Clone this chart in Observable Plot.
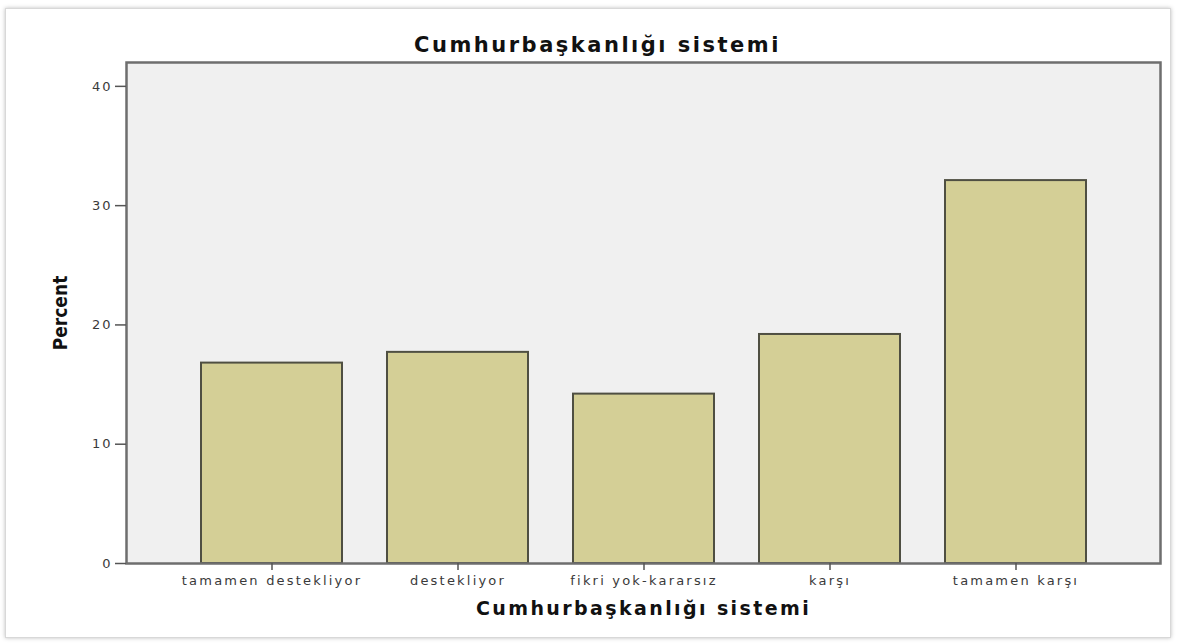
<!DOCTYPE html>
<html>
<head>
<meta charset="utf-8">
<script src="https://cdn.jsdelivr.net/npm/d3@7"></script>
<script src="https://cdn.jsdelivr.net/npm/@observablehq/plot@0.6"></script>
<style>
  html, body { margin: 0; padding: 0; background: #fff; }
  #wrap { position: relative; width: 1177px; height: 643px; overflow: hidden; }
  #card { position: absolute; left: 5px; top: 8px; width: 1164px; height: 628px;
          border: 1px solid #d8d8d8; box-shadow: 0 0 4px rgba(0,0,0,0.25); background: #fff; }
  #chart { position: absolute; left: 0; top: 0; }
  #chart svg { font-family: "Liberation Sans", Arial, sans-serif; }
  #chart svg [aria-label="x-axis tick label"] text { font-family: "DejaVu Sans", sans-serif; font-size: 13px; fill: #3a3a3a; letter-spacing: 2.2px; }
  #chart svg [aria-label="y-axis tick label"] text { font-family: "DejaVu Sans", sans-serif; font-size: 13px; fill: #3a3a3a; letter-spacing: 2px; }
  #chart svg [aria-label="chart-title"], #chart svg [aria-label="chart-title"] text { letter-spacing: 2.5px; }
  #chart svg [aria-label="x-title"], #chart svg [aria-label="x-title"] text { letter-spacing: 2.4px; }
</style>
</head>
<body>
<div id="wrap"><div id="card"></div><div id="chart"></div></div>
<script>
const categories = ["tamamen destekliyor", "destekliyor", "fikri yok-kararsız", "karşı", "tamamen karşı"];
const percents = [16.8, 17.7, 14.2, 19.2, 32.1];
const yTicks = [0, 10, 20, 30, 40];
const titleText = "Cumhurbaşkanlığı sistemi";
const xLabel = "Cumhurbaşkanlığı sistemi";
const yLabel = "Percent";

const data = categories.map((c, i) => ({cat: c, pct: percents[i]}));

const chart = Plot.plot({
  width: 1177,
  height: 643,
  marginLeft: 126,
  marginRight: 17,
  marginTop: 62,
  marginBottom: 80,
  x: {domain: categories, paddingInner: 0.244, paddingOuter: 0.394, label: null},
  y: {domain: [0, 42], label: null},
  marks: [
    Plot.frame({fill: "#f0f0f0", stroke: null}),
    Plot.barY(data, {x: "cat", y: "pct", fill: "#d4cf96", stroke: "#4f4f42", strokeWidth: 2}),
    Plot.frame({stroke: "#6e6e6e", strokeWidth: 2.5}),
    Plot.axisY({ticks: yTicks, tickSize: 11, tickPadding: 3, label: null, stroke: "#555", strokeWidth: 1.5}),
    Plot.axisX({tickSize: 7, tickPadding: 5, label: null, stroke: "#555", strokeWidth: 1.5}),
    Plot.text([titleText], {frameAnchor: "top", lineAnchor: "middle", dy: -17, dx: -46, fontSize: 21, fontWeight: "bold", fill: "#111",
      fontFamily: "'DejaVu Sans', sans-serif", ariaLabel: () => "chart-title"}),
    Plot.text([xLabel], {frameAnchor: "bottom", lineAnchor: "middle", dy: 45, fontSize: 19, fontWeight: "bold", fill: "#111",
      fontFamily: "'DejaVu Sans', sans-serif", ariaLabel: () => "x-title"}),
    Plot.text([yLabel], {frameAnchor: "left", textAnchor: "middle", lineAnchor: "middle", dx: -66, rotate: -90, fontSize: 19, fontWeight: "bold", fill: "#111",
      fontFamily: "'Liberation Sans Narrow', 'DejaVu Sans Condensed', sans-serif"})
  ]
});
const texts = d3.select(chart).selectAll("text").filter(function() { return this.textContent === titleText; }).nodes();
if (texts.length >= 2) {
  texts.sort((a, b) => a.getAttribute("transform") < b.getAttribute("transform") ? -1 : 1);
}
texts.forEach(t => {
  const tr = t.getAttribute("transform") || "";
  const m = /translate\(([-\d.]+),([-\d.]+)\)/.exec(tr);
  const y = m ? +m[2] : 0;
  t.style.letterSpacing = y < 100 ? "2.5px" : "2.4px";
});
document.getElementById("chart").appendChild(chart);
</script>
</body>
</html>
